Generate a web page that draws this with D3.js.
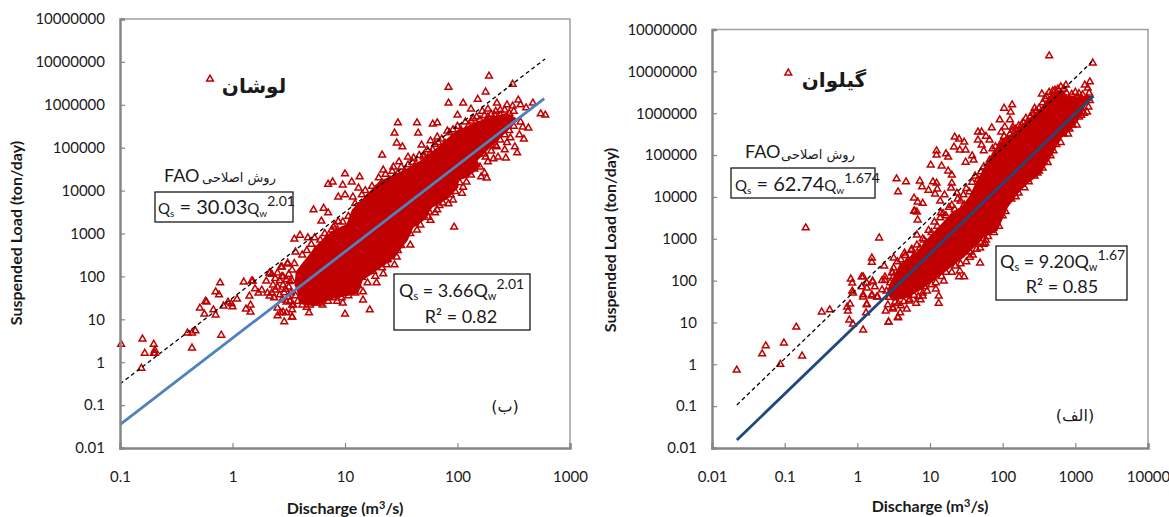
<!DOCTYPE html>
<html>
<head>
<meta charset="utf-8">
<script src="https://d3js.org/d3.v7.min.js"></script>
<style>
    body { margin: 0; background: white; }
    svg { display: block; }
    text { font-family: Lato, "Open Sans", sans-serif; fill: #1a1a1a; }
    .fa { font-family: "DejaVu Sans", sans-serif; }
</style>
</head>
<body>
<svg id="chart" width="1169" height="517"></svg>
<script>

const y_tick_values = [0.01, 0.1, 1, 10, 100, 1000, 10000, 100000, 1000000, 10000000, 100000000];
// the top label really is printed with one zero too few in the original
const y_tick_labels = ["0.01", "0.1", "1", "10", "100", "1000", "10000", "100000", "1000000", "10000000", "10000000"];

const lushan_x_ticks = [0.1, 1, 10, 100, 1000];
const lushan_x_labels = ["0.1", "1", "10", "100", "1000"];
const gilvan_x_ticks = [0.01, 0.1, 1, 10, 100, 1000, 10000];
const gilvan_x_labels = ["0.01", "0.1", "1", "10", "100", "1000", "10000"];

// Fitted lines, end points only
const lushan_fit = [[0.1, 0.035], [590, 1400000]];
const lushan_fao = [[0.1, 0.31], [600, 11700000]];
const gilvan_fit = [[0.022, 0.0155], [1780, 2570000]];
const gilvan_fao = [[0.022, 0.107], [1740, 17800000]];

// Outline of the solid part of each cloud, too dense to read single markers
const lushan_cloud = [[.56,1.80],[.57,2.10],[.64,2.34],[.76,2.73],[.88,3.03],[1.02,3.20],[1.07,3.55],[1.16,3.78],[1.31,4.20],[1.43,4.34],[1.60,4.55],[1.69,4.71],[1.84,5.02],[1.99,5.37],[2.17,5.58],[2.29,5.69],[2.44,5.79],[2.53,5.65],[2.35,5.18],[2.26,4.95],[2.17,4.71],[2.18,4.53],[2.08,4.32],[2.0,4.25],[2.0,4.08],[1.91,3.83],[1.77,3.62],[1.69,3.31],[1.60,3.15],[1.55,2.85],[1.43,2.45],[1.36,2.31],[1.15,1.92],[1.11,1.61],[.89,1.50],[.72,1.33],[.60,1.38],[.58,1.68]];
const gilvan_cloud = [[.42,1.70],[.45,1.89],[.59,2.37],[.83,2.68],[1.0,3.04],[1.20,3.40],[1.31,3.62],[1.45,3.76],[1.55,4.0],[1.65,4.36],[1.87,5.05],[2.0,5.36],[2.17,5.53],[2.33,5.79],[2.55,6.15],[2.69,6.48],[2.83,6.51],[2.90,6.36],[3.06,6.39],[3.23,6.39],[3.13,6.20],[3.03,5.84],[2.92,5.60],[2.79,5.41],[2.65,4.95],[2.51,4.57],[2.33,4.33],[2.20,4.09],[2.06,3.76],[1.92,3.21],[1.73,3.04],[1.58,2.78],[1.45,2.56],[1.27,2.32],[1.04,2.01],[.89,1.82],[.68,1.61],[.49,1.54]];

const lushan_points = [[-.99,.42],[-.80,.54],[-.78,.21],[-.81,-.14],[-.70,.42],[-.69,.28],[-.70,.21],[-.69,.21],[-.40,.68],[-.36,.68],[-.33,.73],[-.36,.33],[-.29,1.26],[-.25,1.12],[-.24,1.42],[-.23,1.40],[-.17,1.22],[-.15,1.10],[-.15,1.64],[-.12,1.57],[-.11,1.85],[-.10,.63],[-.08,1.31],[-.04,1.40],[-.01,1.36],[0,1.29],[.04,1.47],[.10,1.87],[.18,1.89],[.15,1.54],[.12,1.24],[.16,1.33],[.16,1.17],[.20,1.71],[.23,1.61],[.26,1.68],[.30,1.89],[.33,2.08],[.31,1.61],[.33,1.54],[.36,1.80],[.38,1.68],[.40,2.08],[.43,2.22],[.42,1.57],[.45,1.80],[.45,1.99],[.49,2.29],[.48,1.92],[.40,1.26],[.40,1.08],[.43,1.15],[.48,1.15],[.46,.94],[.53,1.22],[.53,1.05],[.54,1.33],[.50,1.52],
    [.55,2.87],[.60,2.96],[.67,2.90],[.72,3.55],[.81,3.59],[.85,3.48],[.79,3.29],[.88,3.08],[.85,4.15],[.89,4.20],[.98,4.13],[1.0,4.39],[1.13,4.32],[1.06,4.20],[.94,3.85],[1.0,3.90],[1.07,3.85],[1.12,4.06],[.98,3.27],[.91,3.20],[.73,2.90],[.56,2.57],[.49,2.31],[.44,2.22],[.33,2.08],[.17,1.89],
    [1.22,1.22],[1.0,1.12],[.98,1.38],[1.16,1.45],[1.28,1.85],[1.2,1.85],[1.34,2.06],[1.37,2.38],[.68,1.15],[.53,1.05],[.45,1.17],[.53,1.33],[.62,1.33],[.69,1.33],[.78,1.38],[.89,1.50],[1.09,1.61],[1.16,1.64],[1.27,2.0],[1.44,2.27],[1.37,2.27],
    [2.28,6.67],[1.92,6.41],[2.49,6.48],[2.25,6.30],[1.92,6.04],[2.05,6.04],[2.18,6.13],[2.35,6.04],[2.12,5.90],[2.0,5.76],[2.17,5.72],[1.47,5.58],[1.64,5.58],[1.78,5.55],[1.82,5.58],[1.44,5.34],[1.65,5.34],[1.46,5.11],[1.51,5.02],[1.68,5.06],[1.76,5.16],[1.82,5.25],[1.91,5.39],[1.70,4.83],[1.78,4.95],[1.33,4.83],[1.56,4.78],[1.48,4.67],[1.61,4.76],[1.43,4.55],[1.34,4.48],
    [2.44,6.0],[2.49,5.97],[2.56,6.0],[2.54,6.11],[2.61,5.93],[2.67,6.04],[2.74,5.79],[2.78,5.76],[2.56,5.6],[2.63,5.46],[2.58,5.48],[2.55,5.30],[2.59,5.20],[2.51,5.02],[2.53,4.88],[2.47,5.23],[2.43,4.76],[2.42,4.95],[2.35,5.02],[2.32,4.74],[2.27,4.67],[2.25,4.78],[2.36,4.78],[2.24,4.41],[2.26,4.29],[2.21,4.32],[2.17,4.60],[2.05,4.08],[2.04,3.94],[1.96,3.78],[1.92,3.69],[1.82,3.55],[1.80,3.48],[1.74,3.38],[1.87,3.71],[2.38,5.88],[2.33,5.76],[2.27,5.72],
    [1.97,3.15],[1.76,3.31],[1.64,3.08],[1.58,2.73],[1.46,2.45],[-.2,6.60]];

// markers crowded along the edges of the Lushan cloud, estimated
const lushan_fringe = [[.62,2.5],[.66,2.6],[.70,2.75],[.74,2.62],[.78,2.85],[.82,3.0],[.84,2.9],[.90,3.15],[.94,3.28],[.97,3.05],[1.03,3.4],[1.05,3.25],[1.09,3.7],[1.12,3.62],[1.15,3.9],[1.18,4.0],[1.2,3.82],[1.24,4.1],[1.27,4.02],[1.3,4.3],[1.33,4.18],[1.36,4.38],[1.4,4.25],[1.42,4.45],[1.47,4.4],[1.5,4.55],[1.53,4.45],[1.56,4.6],[1.6,4.66],[1.63,4.62],[1.66,4.82],[1.7,4.78],[1.73,4.95],[1.76,4.88],[1.8,5.08],[1.83,5.12],[1.86,5.2],[1.89,5.1],[1.93,5.35],[1.96,5.42],[2.0,5.5],[2.03,5.42],[2.07,5.6],[2.1,5.52],[2.14,5.68],[2.2,5.65],[2.24,5.75],[2.3,5.78],[2.34,5.85],[2.38,5.76],[2.42,5.88],[2.46,5.8],[2.5,5.85],[2.22,5.85],[2.27,5.9],[2.12,5.62],
    [2.5,5.5],[2.46,5.4],[2.42,5.3],[2.44,5.12],[2.38,5.18],[2.34,5.05],[2.3,4.92],[2.24,4.85],[2.2,4.55],[2.15,4.5],[2.12,4.36],[2.08,4.2],[2.02,4.18],[1.98,3.98],[1.94,3.9],[1.88,3.85],[1.84,3.65],[1.78,3.7],[1.75,3.5],[1.7,3.42],[1.67,3.2],[1.62,3.25],[1.58,3.0],[1.55,3.05],[1.5,2.72],[1.47,2.6],[1.42,2.55],[1.38,2.4],[1.33,2.2],[1.3,2.35],[1.25,2.12],[1.2,2.1],[1.15,1.98],[1.12,1.78],[1.07,1.72],[1.03,1.55],[.97,1.5],[.93,1.42],[.85,1.42],[.8,1.33],[.75,1.38],[.66,1.28],[.58,1.42],[.56,1.55],[.52,1.62],[.5,1.75],[.53,1.9],[.5,2.05],[.53,2.15],[.55,2.3],
    [.35,2.05],[.38,1.95],[.42,1.9],[.44,2.0],[.47,1.7],[.4,1.75],[.35,1.62],[.44,1.45],[.48,1.4],[.37,1.5],[.46,1.62],[.51,1.88],[.51,1.42]];

const gilvan_points = [[-1.66,-.14],[-1.31,.25],[-1.26,.44],[-1.06,.0],[-1.01,.51],[-.84,.89],[-.76,.20],[-.49,1.25],[-.38,1.30],[-.11,1.06],[-.06,.96],[-.13,1.27],[-.14,1.37],[-.10,1.44],[-.09,2.04],[-.07,1.94],[-.06,1.70],[-.07,1.75],[.08,.82],[.13,1.44],[.12,1.23],[.06,2.09],[.06,1.85],[.08,1.66],[.13,1.94],[.20,2.44],[.37,2.35],[.21,1.97],[.20,1.66],[.27,1.61],[.39,1.27],[.43,1.01],[.49,1.35],[.56,1.13],[.34,1.78],[.38,2.01],[.48,2.18],[.52,1.49],
    [-.71,3.26],[.30,3.02],[.20,2.54],[.54,4.43],[.56,4.12],[.67,4.36],[.86,4.38],[1.01,4.76],[1.09,5.10],[1.09,5.0],[1.22,5.03],[1.25,4.95],[1.16,4.74],[1.25,4.62],[1.30,4.52],[1.34,5.43],[1.40,5.38],[1.47,5.31],[1.33,5.19],[1.41,5.12],[1.49,5.12],[1.58,4.98],[1.49,4.83],[1.60,4.88],[1.66,5.36],[1.66,5.55],[1.71,5.55],[1.77,5.45],[1.85,5.65],[1.82,5.36],[1.71,5.24],[1.74,5.10],[1.98,5.55],[1.96,5.84],[2.02,6.12],[2.13,6.20],[2.11,6.03],[2.10,5.84],[2.14,5.67],[2.03,5.67],[2.26,5.72],[2.54,6.46],[2.64,7.37],[3.24,7.20],[2.44,6.12],[2.35,5.79],[2.69,6.53],[2.80,6.63],[2.87,6.67],[2.76,6.58],[2.59,6.34],[3.20,6.75],[3.13,6.67],[3.17,6.60],[3.19,6.48],[3.16,6.03],[3.05,5.91],[2.92,5.62],[2.66,4.98],[2.55,4.69],[2.48,4.57],[2.36,4.36],[2.22,4.09],[2.06,3.93],[1.77,2.97],[1.74,2.87],
    [.83,3.45],[.82,3.09],[.75,2.75],[.65,2.66],[.78,3.97],[.83,3.88],[.90,3.85],[.78,3.66],[.82,3.64],[.89,4.24],[.98,4.16],[1.04,4.36],[1.09,4.33],[1.10,4.19],[1.07,4.07],[1.20,4.05],[1.14,3.90],[1.15,3.62],[1.30,4.33],[1.29,4.21],[1.37,4.09],[1.47,3.81],
    [.43,1.01],[.56,1.11],[.59,1.23],[.68,1.32],[.49,1.32],[.81,1.46],[.87,1.54],[.90,1.63],[.71,1.51],[1.12,1.46],[1.12,1.63],[1.08,1.80],[.93,1.85],[1.19,1.99],[1.47,2.09],[1.40,2.09],[1.41,2.23],[1.69,2.42],[1.59,2.61],[1.69,2.78],[1.76,2.90],[1.55,2.56],[.50,2.54],[.92,2.97],[.79,3.66],
    [.08,2.09],[.21,1.99],[.34,2.0],[.38,2.09],[.48,2.20],[.08,1.61],[.20,1.63],[.28,1.61],[.13,1.42],[.42,1.42],[.13,1.82],[.24,1.85],[-.95,6.96]];

// same for the Gilvan cloud
const gilvan_fringe = [[.5,2.3],[.55,2.45],[.6,2.5],[.66,2.6],[.7,2.5],[.74,2.72],[.78,2.6],[.82,2.85],[.86,2.78],[.9,3.0],[.95,2.9],[.98,3.2],[1.02,3.15],[1.06,3.4],[1.1,3.3],[1.14,3.5],[1.18,3.6],[1.22,3.55],[1.26,3.75],[1.3,3.8],[1.34,3.7],[1.38,3.95],[1.42,3.9],[1.46,4.05],[1.5,4.2],[1.54,4.12],[1.58,4.35],[1.62,4.5],[1.66,4.42],[1.7,4.6],[1.74,4.72],[1.78,4.65],[1.82,4.88],[1.86,5.15],[1.9,5.2],[1.94,5.1],[1.98,5.3],[2.02,5.45],[2.06,5.38],[2.1,5.5],[2.14,5.6],[2.18,5.62],[2.22,5.7],[2.28,5.78],[2.32,5.88],[2.38,5.92],[2.42,6.0],[2.46,6.05],[2.5,6.12],[2.55,6.25],[2.6,6.4],[2.64,6.5],[2.72,6.55],[2.76,6.42],[2.84,6.58],[2.88,6.48],[2.95,6.45],[3.0,6.5],[3.05,6.47],[3.1,6.44],[3.16,6.36],
    [3.2,6.3],[3.18,6.15],[3.12,6.0],[3.08,5.95],[3.02,5.72],[2.96,5.72],[2.9,5.5],[2.84,5.5],[2.8,5.3],[2.74,5.25],[2.7,5.1],[2.62,4.82],[2.56,4.85],[2.5,4.62],[2.44,4.5],[2.38,4.5],[2.3,4.22],[2.26,4.3],[2.18,4.0],[2.12,3.95],[2.04,3.65],[2.0,3.55],[1.95,3.3],[1.88,3.15],[1.84,3.2],[1.8,3.05],[1.7,2.9],[1.64,2.75],[1.55,2.68],[1.5,2.45],[1.42,2.4],[1.35,2.35],[1.3,2.2],[1.22,2.2],[1.16,2.1],[1.08,1.95],[1.02,1.9],[.96,1.75],[.9,1.7],[.84,1.62],[.78,1.65],[.72,1.55],[.64,1.5],[.6,1.4],[.56,1.45],[.44,1.6],[.4,1.75],[.45,1.95],[.5,2.1]];

const svg = d3.select("#chart");
const red = "#c00000";
const triangle = d3.symbol().type(d3.symbolTriangle).size(20);

// Qs = 30.03Qw^2.01 style label, sizes follow the text box in the picture
function addFormula(x, y, parts) {
    const t = svg.append("text").attr("x", x).attr("y", y);
    parts.forEach((p) => {
        t.append("tspan")
            .attr("dy", p.dy || 0)
            .style("font-size", p.size + "px")
            .text(p.text);
    });
}

function drawPanel(p) {
    const x = d3.scaleLog().domain(p.x_domain).range(p.x_range);
    const y = d3.scaleLog().domain([0.01, 100000000]).range(p.y_range);
    const g = svg.append("g");

    // top and right edges are the thin ones
    g.append("path")
        .attr("d", `M${p.x_range[0]},${p.y_range[1]}H${p.x_range[1]}V${p.y_range[0]}`)
        .attr("fill", "none")
        .attr("stroke", "#a0a0a0")
        .attr("stroke-width", 1.5);

    const cloud = d3.line().x((d) => x(10 ** d[0])).y((d) => y(10 ** d[1])).curve(d3.curveLinearClosed);
    g.append("path")
        .attr("d", cloud(p.cloud))
        .attr("fill", red)
        .attr("stroke", red)
        .attr("stroke-width", 2)
        .attr("stroke-linejoin", "round");

    g.selectAll(".pt").data(p.points).enter().append("path")
        .attr("transform", (d) => `translate(${x(10 ** d[0])},${y(10 ** d[1])})`)
        .attr("d", triangle)
        .attr("fill", "none")
        .attr("stroke", red)
        .attr("stroke-width", 1.5);

    const line = d3.line().x((d) => x(d[0])).y((d) => y(d[1]));
    g.append("path").attr("d", line(p.fao))
        .attr("stroke", "black").attr("stroke-width", 1.3)
        .attr("stroke-dasharray", "4,3").attr("fill", "none");
    g.append("path").attr("d", line(p.fit))
        .attr("stroke", p.fit_color).attr("stroke-width", 2.8).attr("fill", "none");

    const y_axis = d3.axisLeft(y).tickValues(y_tick_values)
        .tickFormat((d, i) => y_tick_labels[i]).tickSize(-5).tickPadding(15);
    const x_axis = d3.axisBottom(x).tickValues(p.x_ticks)
        .tickFormat((d, i) => p.x_labels[i]).tickSize(-5).tickPadding(23);
    [g.append("g").attr("transform", `translate(${p.x_range[0]},0)`).call(y_axis),
     g.append("g").attr("transform", `translate(0,${p.y_range[0]})`).call(x_axis)].forEach((a) => {
        a.selectAll("text").style("font-size", "15px").style("font-family", "Lato").attr("fill", "#1a1a1a");
        a.selectAll("line").attr("stroke", "#868686").attr("stroke-width", 1.2);
        a.select(".domain").attr("stroke", "#868686").attr("stroke-width", 2.5);
    });

    svg.append("text")
        .attr("transform", `translate(${p.y_title_x},${p.y_title_y}) rotate(-90)`)
        .attr("text-anchor", "middle")
        .style("font-size", "16px").style("font-weight", "bold")
        .text("Suspended Load (ton/day)");
    const xt = svg.append("text")
        .attr("x", p.x_title_x).attr("y", p.x_title_y)
        .attr("text-anchor", "middle")
        .style("font-size", "16px").style("font-weight", "bold");
    xt.append("tspan").text("Discharge (m");
    xt.append("tspan").attr("dy", -5).style("font-size", "11px").text("3");
    xt.append("tspan").attr("dy", 5).text("/s)");

    // the two equation boxes
    p.boxes.forEach((b) => {
        svg.append("rect").attr("x", b[0]).attr("y", b[1]).attr("width", b[2]).attr("height", b[3])
            .attr("fill", "white").attr("stroke", "#1a1a1a").attr("stroke-width", 1.3);
    });
    addFormula(p.fao_xy[0], p.fao_xy[1], [
        {text: "Q", size: 15}, {text: "s", size: 10, dy: 3},
        {text: p.fao_gap + "= " + p.fao_a, size: 20, dy: -3},
        {text: "Q", size: 15}, {text: "w", size: 10, dy: 3},
        {text: p.fao_b, size: 14, dy: -11}]);
    addFormula(p.fit_xy[0], p.fit_xy[1], [
        {text: "Q", size: 18}, {text: "s", size: 11, dy: 3},
        {text: " = " + p.fit_a + "Q", size: 18, dy: -3}, {text: "w", size: 11, dy: 3},
        {text: p.fit_b, size: 14, dy: -11}]);
    svg.append("text").attr("x", p.r2_xy[0]).attr("y", p.r2_xy[1])
        .attr("text-anchor", "middle").style("font-size", "18px").text("R² = " + p.r2);

    svg.append("text").attr("x", p.fao_label[0]).attr("y", p.fao_label[1])
        .style("font-size", "18px").text("FAO");
    svg.append("text").attr("class", "fa").attr("x", p.fa_label[0]).attr("y", p.fa_label[1])
        .attr("text-anchor", "middle").style("font-size", "13px").style("direction", "rtl")
        .text("روش اصلاحی");
    svg.append("text").attr("class", "fa").attr("x", p.title_xy[0]).attr("y", p.title_xy[1])
        .attr("text-anchor", "middle").style("font-size", "20px").style("font-weight", "bold")
        .style("direction", "rtl").text(p.title);
    svg.append("text").attr("class", "fa").attr("x", p.part_xy[0]).attr("y", p.part_xy[1])
        .attr("text-anchor", "middle").style("font-size", "16px").style("direction", "rtl")
        .text(p.part);
}

drawPanel({
    x_domain: [0.1, 1000], x_range: [120, 570], y_range: [448, 19],
    x_ticks: lushan_x_ticks, x_labels: lushan_x_labels,
    points: lushan_points.concat(lushan_fringe), cloud: lushan_cloud,
    fit: lushan_fit, fao: lushan_fao, fit_color: "#4f81bd",
    y_title_x: 22, y_title_y: 233, x_title_x: 345, x_title_y: 514,
    boxes: [[155, 192, 138, 30], [394, 274, 136, 56]],
    fao_xy: [158, 214], fao_gap: " ", fao_a: "30.03", fao_b: "2.01",
    fit_xy: [399, 297], fit_a: "3.66", fit_b: "2.01",
    r2_xy: [461, 323], r2: "0.82",
    fao_label: [164, 182], fa_label: [239, 182],
    title: "لوشان", title_xy: [254, 93],
    part: "(ب)", part_xy: [505, 412]
});

drawPanel({
    x_domain: [0.01, 10000], x_range: [712, 1148], y_range: [448, 29.5],
    x_ticks: gilvan_x_ticks, x_labels: gilvan_x_labels,
    points: gilvan_points.concat(gilvan_fringe), cloud: gilvan_cloud,
    fit: gilvan_fit, fao: gilvan_fao, fit_color: "#1f497d",
    y_title_x: 616, y_title_y: 240, x_title_x: 930, x_title_y: 512,
    boxes: [[731, 168, 144, 30], [996, 246, 131, 54]],
    fao_xy: [735, 191], fao_gap: "  ", fao_a: "62.74", fao_b: "1.674",
    fit_xy: [1000, 268], fit_a: "9.20", fit_b: "1.67",
    r2_xy: [1062, 293], r2: "0.85",
    fao_label: [745, 158], fa_label: [818, 159],
    title: "گیلوان", title_xy: [834, 87],
    part: "(الف)", part_xy: [1075, 421]
});
</script>
</body>
</html>
